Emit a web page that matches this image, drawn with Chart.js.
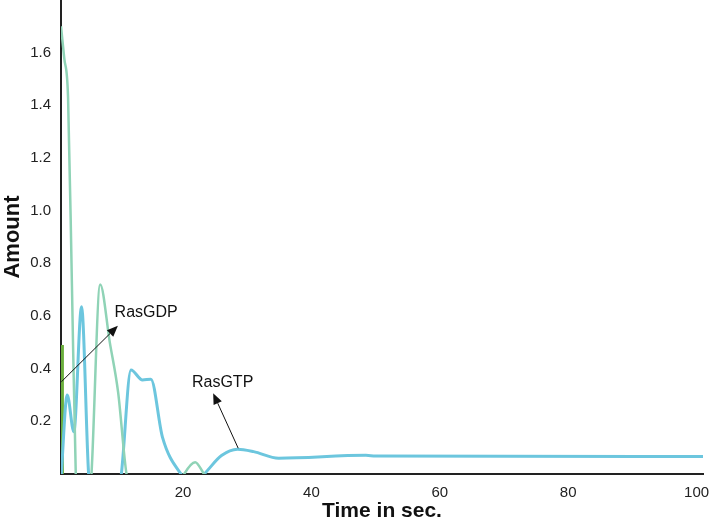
<!DOCTYPE html>
<html>
<head>
<meta charset="utf-8">
<script src="https://cdn.jsdelivr.net/npm/chart.js@4/dist/chart.umd.min.js"></script>
<style>
  html, body { margin: 0; padding: 0; background: #fff; }
  #wrap { width: 713px; height: 522px; }
</style>
</head>
<body>
<div id="wrap"><canvas id="chart"></canvas></div>
<script>
// values (time in sec., amount)
const gdpTime   = [1, 1.5, 2.1, 2.7, 3.3, 4.5, 5.75, 7.1, 8.6, 9.9, 11.2, 15, 20.2, 21.9, 23.3, 26, 30, 100];
const gdpAmount = [1.70, 1.58, 1.43, 0.72, 0, -0.4, 0, 0.72, 0.50, 0.31, 0, -0.3, 0, 0.045, 0, -0.06, -0.08, -0.07];

const gtpTime   = [1, 1.97, 3.0, 4.2, 5.3, 7.5, 10.4, 11.9, 13.7, 15.0, 16.8, 19.7, 21.5, 23.3, 26, 28.5, 31, 34.9, 48.5, 50, 101];
const gtpAmount = [-0.02, 0.30, 0.16, 0.635, 0, -0.4, 0, 0.395, 0.357, 0.36, 0.14, 0, -0.04, 0, 0.07, 0.094, 0.085, 0.06, 0.071, 0.068, 0.066];

const rasTime   = [1.18, 1.22, 1.4];
const rasAmount = [0.49, 0, -0.5];

const xTicks = [20, 40, 60, 80, 100];
const yTicks = [0.2, 0.4, 0.6, 0.8, 1.0, 1.2, 1.4, 1.6];

// arrow labels, in data units: text, text pos, arrow tail, arrow head
const notes = [
    { text: 'RasGDP', tx: 9.35, ty: 0.612, x0: 1.05, y0: 0.35, x1: 9.86, y1: 0.563 },
    { text: 'RasGTP', tx: 21.4, ty: 0.348, x0: 28.6, y0: 0.098, x1: 24.7, y1: 0.307 }
];

function toPoints(xs, ys) {
    return xs.map((x, i) => ({ x: x, y: ys[i] }));
}

const FONT = "'Liberation Sans', Arial, sans-serif";

const arrowPlugin = {
    id: 'arrows',
    afterDatasetsDraw(chart) {
        const ctx = chart.ctx;
        const xs = chart.scales.x, ys = chart.scales.y;
        ctx.save();
        notes.forEach(n => {
            const ax = xs.getPixelForValue(n.x0), ay = ys.getPixelForValue(n.y0);
            const bx = xs.getPixelForValue(n.x1), by = ys.getPixelForValue(n.y1);
            const ang = Math.atan2(by - ay, bx - ax);
            const len = 11, half = 4.5;
            ctx.strokeStyle = '#111';
            ctx.fillStyle = '#111';
            ctx.lineWidth = 1;
            ctx.beginPath();
            ctx.moveTo(ax, ay);
            ctx.lineTo(bx - Math.cos(ang) * len, by - Math.sin(ang) * len);
            ctx.stroke();
            ctx.beginPath();
            ctx.moveTo(bx, by);
            ctx.lineTo(bx - Math.cos(ang) * len - Math.sin(ang) * half, by - Math.sin(ang) * len + Math.cos(ang) * half);
            ctx.lineTo(bx - Math.cos(ang) * len + Math.sin(ang) * half, by - Math.sin(ang) * len - Math.cos(ang) * half);
            ctx.closePath();
            ctx.fill();
            ctx.font = '16px ' + FONT;
            ctx.textAlign = 'left';
            ctx.textBaseline = 'middle';
            ctx.fillText(n.text, xs.getPixelForValue(n.tx), ys.getPixelForValue(n.ty));
        });
        ctx.restore();
    }
};

new Chart(document.getElementById('chart'), {
    type: 'line',
    data: {
        datasets: [
            {
                label: 'RasGDP',
                data: toPoints(gdpTime, gdpAmount),
                borderColor: '#8fd3b6',
                borderWidth: 2.5,
                pointRadius: 0,
                cubicInterpolationMode: 'monotone'
            },
            {
                label: 'RasGTP',
                data: toPoints(gtpTime, gtpAmount),
                borderColor: '#6cc6de',
                borderWidth: 3,
                pointRadius: 0,
                cubicInterpolationMode: 'monotone'
            },
            {
                label: 'Ras',
                data: toPoints(rasTime, rasAmount),
                borderColor: '#6aae3c',
                borderWidth: 3,
                pointRadius: 0
            }
        ]
    },
    options: {
        responsive: true,
        maintainAspectRatio: false,
        animation: false,
        layout: { padding: { top: 0, right: 10, left: 0, bottom: 0 } },
        plugins: {
            legend: { display: false },
            tooltip: { enabled: false }
        },
        scales: {
            x: {
                type: 'linear',
                min: 1,
                max: 101,
                grid: { display: false, drawTicks: false },
                border: { display: true, color: '#222', width: 2 },
                afterBuildTicks: axis => { axis.ticks = xTicks.map(v => ({ value: v })); },
                afterFit: axis => {
                    axis.height = 48;
                    axis.paddingLeft = 0;
                    axis.paddingRight = 0;
                },
                ticks: {
                    color: '#222',
                    font: { family: FONT, size: 15 },
                    padding: 10,
                    maxRotation: 0
                },
                title: {
                    display: true,
                    text: 'Time in sec.',
                    color: '#111',
                    font: { family: FONT, size: 21, weight: 'bold' },
                    padding: { top: 0, bottom: -2 }
                }
            },
            y: {
                min: 0,
                max: 1.8,
                grid: { display: false, drawTicks: false },
                border: { display: true, color: '#222', width: 2 },
                afterBuildTicks: axis => { axis.ticks = yTicks.map(v => ({ value: v })); },
                afterFit: axis => {
                    axis.width = 61;
                    axis.paddingTop = 0;
                    axis.paddingBottom = 0;
                },
                ticks: {
                    color: '#222',
                    font: { family: FONT, size: 15 },
                    padding: 10,
                    callback: v => v.toFixed(1)
                },
                title: {
                    display: true,
                    text: 'Amount',
                    color: '#111',
                    font: { family: FONT, size: 22, weight: 'bold' },
                    padding: { top: 0, bottom: 0 }
                }
            }
        }
    },
    plugins: [arrowPlugin]
});
</script>
</body>
</html>
